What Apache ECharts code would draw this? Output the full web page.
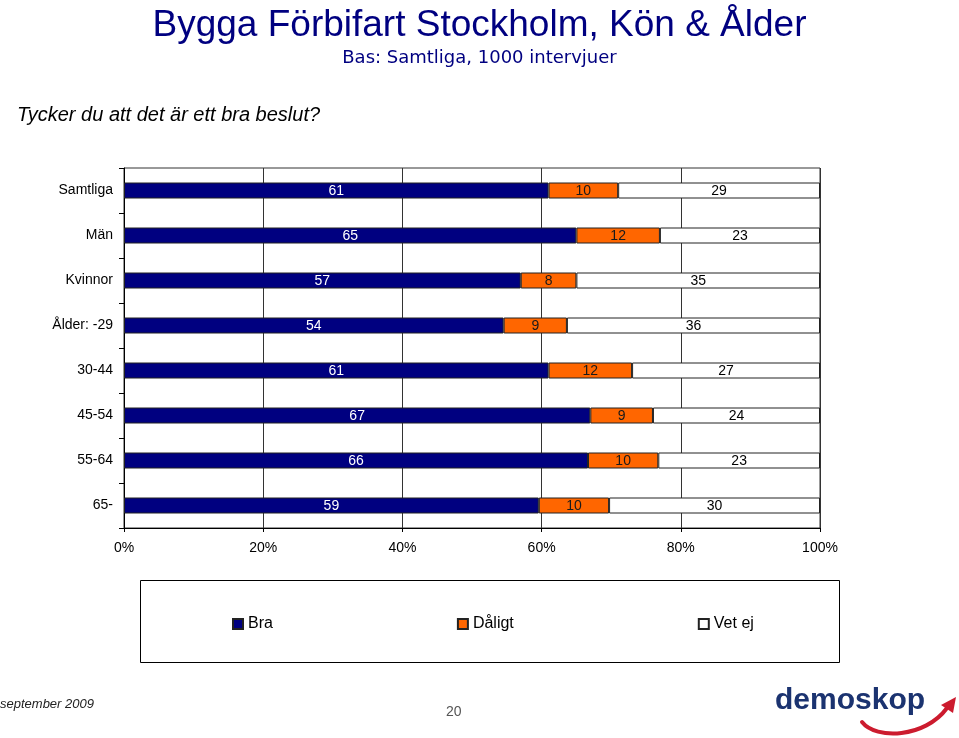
<!DOCTYPE html>
<html>
<head>
<meta charset="utf-8">
<script src="https://cdn.jsdelivr.net/npm/echarts@6/dist/echarts.min.js"></script>
<style>
html,body{margin:0;padding:0;background:#fff;}
#chart{width:959px;height:738px;}
</style>
</head>
<body>
<div id="chart"></div>
<script>
var categories = ['Samtliga', 'Män', 'Kvinnor', 'Ålder: -29', '30-44', '45-54', '55-64', '65-'];
var bra    = [61, 65, 57, 54, 61, 67, 66, 59];
var daligt = [10, 12, 8, 9, 12, 9, 10, 10];
var vetej  = [29, 23, 35, 36, 27, 24, 23, 30];
var seriesNames = ['Bra', 'Dåligt', 'Vet ej'];
var xTickLabels = ['0%', '20%', '40%', '60%', '80%', '100%'];

var FONT = '"Liberation Sans", Arial, sans-serif';
var raw = [bra, daligt, vetej];
var colors = ['#000080', '#FF6600', '#FFFFFF'];
var labelColors = ['#FFFFFF', '#1a1a1a', '#000000'];

// 100% stacked: each row is shown as share of its total, label shows the read value
function shares(k) {
  return raw[k].map(function (v, i) {
    var tot = bra[i] + daligt[i] + vetej[i];
    return { value: v / tot * 100, raw: v };
  });
}

var series = seriesNames.map(function (name, k) {
  return {
    name: name,
    type: 'bar',
    stack: 'total',
    barWidth: 16,
    data: shares(k),
    itemStyle: { color: colors[k], borderColor: '#222', borderWidth: 1 },
    label: {
      show: true, position: 'inside', offset: [0, 1],
      color: labelColors[k], fontFamily: FONT, fontSize: 14,
      formatter: function (p) { return p.data.raw; }
    },
    emphasis: { disabled: true }
  };
});

var chart = echarts.init(document.getElementById('chart'), null, { renderer: 'canvas' });
chart.setOption({
  backgroundColor: '#fff',
  animation: false,
  title: [
    { text: 'Bygga Förbifart Stockholm, Kön & Ålder', left: 'center', top: 2,
      textStyle: { fontFamily: FONT, fontSize: 37, fontWeight: 'normal', color: '#000080' } },
    { text: 'Bas: Samtliga, 1000 intervjuer', left: 'center', top: 44,
      textStyle: { fontFamily: '"DejaVu Sans", sans-serif', fontSize: 18, fontWeight: 'normal', color: '#000080' } },
    { text: 'Tycker du att det är ett bra beslut?', left: 12, top: 100,
      textStyle: { fontFamily: FONT, fontSize: 20, fontStyle: 'italic', fontWeight: 'normal', color: '#000' } }
  ],
  grid: { left: 124, right: 139, top: 168, bottom: 210, show: true, borderColor: '#333', borderWidth: 1,
          containLabel: false, outerBoundsMode: 'none' },
  xAxis: {
    type: 'value', min: 0, max: 100, interval: 20,
    axisLine: { show: true, lineStyle: { color: '#000', width: 1 } },
    axisTick: { show: true, length: 4, lineStyle: { color: '#000' } },
    axisLabel: { fontFamily: FONT, fontSize: 14, color: '#000', margin: 13,
      formatter: function (v) { return xTickLabels[Math.round(v / 20)]; } },
    splitLine: { show: true, lineStyle: { color: '#333', width: 1 } }
  },
  yAxis: {
    type: 'category', inverse: true, data: categories,
    axisLine: { show: true, lineStyle: { color: '#000', width: 1 } },
    axisTick: { show: true, length: 5, lineStyle: { color: '#000' } },
    axisLabel: { fontFamily: FONT, fontSize: 14, color: '#000', margin: 11 },
    splitLine: { show: false }
  },
  legend: {
    data: seriesNames, left: 227, top: 611, orient: 'horizontal',
    icon: 'rect', itemWidth: 10, itemHeight: 10, itemGap: 184,
    textStyle: { fontFamily: FONT, fontSize: 16, color: '#000' },
    selectedMode: false
  },
  graphic: [
    { type: 'rect', shape: { x: 140.5, y: 580.5, width: 699, height: 82 },
      style: { fill: 'none', stroke: '#000', lineWidth: 1 }, z: -1 },
    { type: 'text', x: 0, y: 698,
      style: { text: 'september 2009', font: 'italic 13px ' + FONT, fill: '#222' } },
    { type: 'text', x: 446, y: 705,
      style: { text: '20', font: '14px ' + FONT, fill: '#555' } },
    { type: 'text', x: 775, y: 686,
      style: { text: 'demoskop', font: 'bold 30px ' + FONT, fill: '#1b3370' } },
    { type: 'bezierCurve', z: 5,
      shape: { x1: 862, y1: 722, cpx1: 876, cpy1: 740, cpx2: 925, cpy2: 738, x2: 947, y2: 708 },
      style: { stroke: '#cc1b2e', lineWidth: 4, fill: 'none', lineCap: 'round' } },
    { type: 'polygon', z: 5,
      shape: { points: [[941, 705], [956, 697], [953, 713]] },
      style: { fill: '#cc1b2e' } }
  ],
  series: series
});
</script>
</body>
</html>
